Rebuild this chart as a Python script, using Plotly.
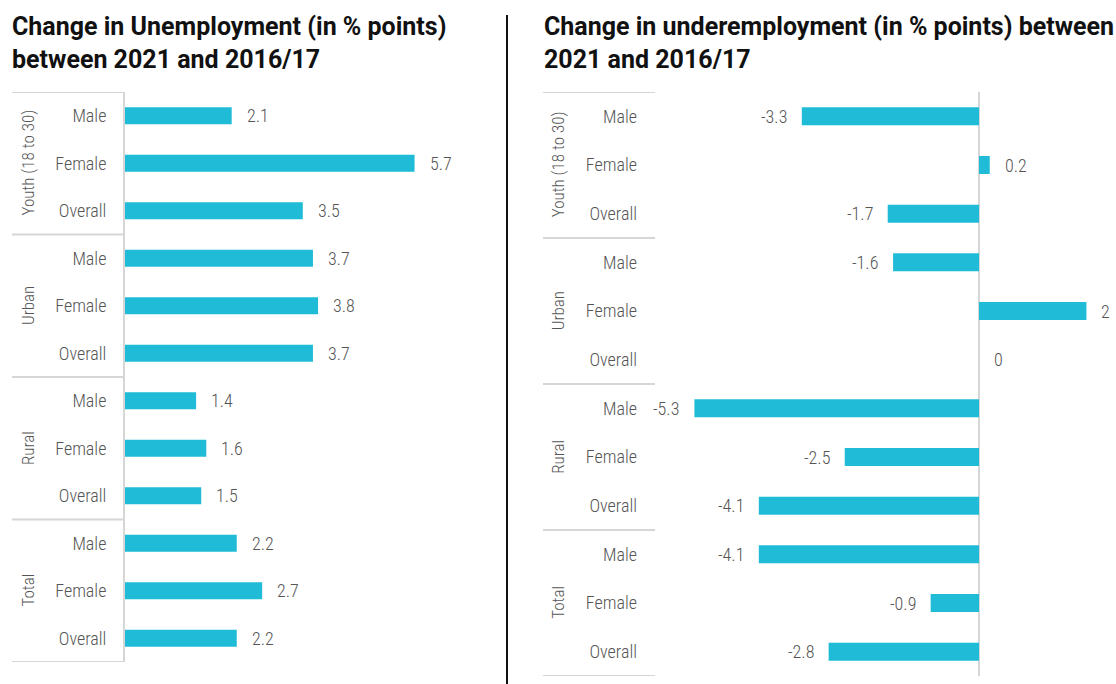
import plotly.graph_objects as go

W, H = 1116, 684

groups = ["Youth (18 to 30)", "Urban", "Rural", "Total"]
subgroups = ["Male", "Female", "Overall"]
unemployment = [2.1, 5.7, 3.5, 3.7, 3.8, 3.7, 1.4, 1.6, 1.5, 2.2, 2.7, 2.2]
underemployment = [-3.3, 0.2, -1.7, -1.6, 2, 0, -5.3, -2.5, -4.1, -4.1, -0.9, -2.8]

title_left = "Change in Unemployment (in % points)<br>between 2021 and 2016/17"
title_right = "Change in underemployment (in % points) between<br>2021 and 2016/17"

BAR = "#1fbbd7"
TXT = "#555555"
GRID = "#d6d6d6"
COND = "Roboto"
BOLD = "Roboto"

def cf(size):
    return dict(family=COND, size=size, color=TXT, weight=300)

n = len(groups) * len(subgroups)
ypos = list(range(n))
ticks = [subgroups[i % len(subgroups)] for i in range(n)]

def px(x):
    return x / W

def py(y):
    return 1 - y / H

fig = go.Figure()
fig.add_trace(go.Bar(x=unemployment, y=ypos, orientation="h", width=0.36,
                     marker=dict(color=BAR, line=dict(width=0)),
                     xaxis="x", yaxis="y", hoverinfo="skip"))
fig.add_trace(go.Bar(x=underemployment, y=ypos, orientation="h", width=0.37,
                     marker=dict(color=BAR, line=dict(width=0)),
                     xaxis="x2", yaxis="y2", hoverinfo="skip"))

annotations = []
shapes = []

for i, v in enumerate(unemployment):
    annotations.append(dict(x=v, y=i, xref="x", yref="y", text=f"{v:g}",
                            showarrow=False, xanchor="left", align="left",
                            xshift=13, font=cf(18)))
for i, v in enumerate(underemployment):
    neg = v < 0
    annotations.append(dict(x=v, y=i, xref="x2", yref="y2", text=f"{v:g}",
                            showarrow=False,
                            xanchor="right" if neg else "left",
                            align="right" if neg else "left",
                            xshift=-13 if neg else 13, font=cf(18)))

for panel, (yref, x_lab, x0, x1) in enumerate([("y", 28, 12, 124), ("y2", 558, 543, 655)]):
    for g, name in enumerate(groups):
        annotations.append(dict(x=px(x_lab), y=g * 3 + 1, xref="paper", yref=yref,
                                text=name, textangle=-90, showarrow=False,
                                xanchor="center", yanchor="middle", font=cf(17)))
    for k in range(len(groups) + 1):
        shapes.append(dict(type="line", xref="paper", yref=yref,
                           x0=px(x0), x1=px(x1), y0=k * 3 - 0.5, y1=k * 3 - 0.5,
                           line=dict(color=GRID, width=2)))

annotations.append(dict(x=px(10), y=py(10), xref="paper", yref="paper", text=title_left,
                        showarrow=False, xanchor="left", yanchor="top", align="left",
                        font=dict(family=BOLD, size=25, color="#111111", weight=700)))
annotations.append(dict(x=px(542), y=py(10), xref="paper", yref="paper", text=title_right,
                        showarrow=False, xanchor="left", yanchor="top", align="left",
                        font=dict(family=BOLD, size=25, color="#111111", weight=700)))

shapes.append(dict(type="line", xref="paper", yref="paper", x0=px(507), x1=px(507),
                   y0=0, y1=py(15), line=dict(color="#111111", width=2)))

left_scale = 50.8
right_scale = 53.7
fig.update_layout(
    width=W, height=H, margin=dict(l=0, r=0, t=0, b=0),
    paper_bgcolor="white", plot_bgcolor="white", showlegend=False,
    xaxis=dict(domain=[px(125), px(480)], range=[0, (480 - 125) / left_scale],
               showgrid=False, zeroline=False, showticklabels=False, showline=False),
    yaxis=dict(domain=[py(662), py(92)], range=[n - 0.5, -0.5],
               tickvals=ypos, ticktext=ticks, showgrid=False, zeroline=False,
               showline=True, linecolor=GRID, linewidth=2, ticks="",
               ticklabelstandoff=13, tickfont=cf(18)),
    xaxis2=dict(domain=[px(655), 1], anchor="y2",
                range=[-(979 - 655) / right_scale, (W - 979) / right_scale],
                showgrid=False, zeroline=True, zerolinecolor=GRID, zerolinewidth=2,
                showticklabels=False, showline=False),
    yaxis2=dict(domain=[py(676), py(92)], anchor="x2", range=[n - 0.5, -0.5],
                tickvals=ypos, ticktext=ticks, showgrid=False, zeroline=False,
                showline=False, ticks="", ticklabelstandoff=17, tickfont=cf(18)),
    annotations=annotations, shapes=shapes,
)

post = """
var gd = document.getElementById('{plot_id}');
gd.querySelectorAll('text').forEach(function(t){
  if ((t.style.fontWeight || '') !== '700') { t.style.fontStretch = '75%'; }
});
"""
fig.write_html("out.html", post_script=post)
